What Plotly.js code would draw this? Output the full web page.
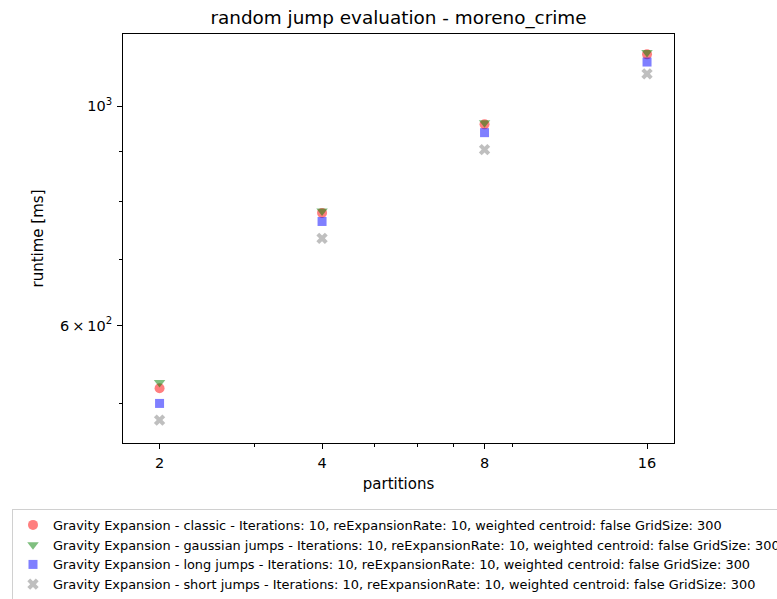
<!DOCTYPE html>
<html>
<head>
<meta charset="utf-8">
<script src="https://cdn.plot.ly/plotly-3.0.1.min.js"></script>
<style>html,body{margin:0;padding:0;background:#fff;overflow:hidden;}#chart{width:777px;height:599px;}</style>
</head>
<body>
<div id="chart"></div>
<script>
const partitions = [2, 4, 8, 16];
const classic = [518.5, 779.8, 958.4, 1128];
const gaussianJumps = [525.4, 783.1, 962.1, 1133];
const longJumps = [500.4, 764.4, 940.0, 1108];
const shortJumps = [481.4, 734.9, 903.6, 1078];

const seriesNames = [
  "Gravity Expansion - classic - Iterations: 10, reExpansionRate: 10, weighted centroid: false GridSize: 300",
  "Gravity Expansion - gaussian jumps - Iterations: 10, reExpansionRate: 10, weighted centroid: false GridSize: 300",
  "Gravity Expansion - long jumps - Iterations: 10, reExpansionRate: 10, weighted centroid: false GridSize: 300",
  "Gravity Expansion - short jumps - Iterations: 10, reExpansionRate: 10, weighted centroid: false GridSize: 300"
];
const xTickVals = [2, 4, 8, 16];
const xTickText = ["2", "4", "8", "16"];
const xMinorVals = [3, 5, 6, 7, 9];
const yTickVals = [600, 1000];
const yTickText = ["6\u2009×\u200910<sup>2</sup>", "10<sup>3</sup>"];
const yMinorVals = [500, 700, 800, 900];

const font = "DejaVu Sans, sans-serif";

function trace(name, y, symbol, color, size) {
  return {
    type: "scatter", mode: "markers", name: name, x: partitions, y: y,
    marker: {symbol: symbol, color: color, size: size, line: {width: 0}}
  };
}

const data = [
  trace(seriesNames[0], classic, "circle", "rgba(255,0,0,0.5)", 10),
  trace(seriesNames[1], gaussianJumps, "triangle-down", "rgba(0,128,0,0.5)", 10),
  trace(seriesNames[2], longJumps, "square", "rgba(0,0,255,0.5)", 9),
  trace(seriesNames[3], shortJumps, "x", "rgba(128,128,128,0.5)", 10)
];

const layout = {
  width: 777, height: 599,
  margin: {l: 123, r: 103, t: 34, b: 156, autoexpand: false},
  paper_bgcolor: "#fff", plot_bgcolor: "#fff",
  font: {family: font, color: "#000", size: 14.5},
  title: {text: "random jump evaluation - moreno_crime", font: {family: font, size: 18.4, color: "#000"},
          x: 0.5, xref: "paper", y: 1 - 18/599, yref: "container", yanchor: "middle"},
  xaxis: {
    type: "log", range: [Math.log10(2) - 0.225*Math.log10(2), Math.log10(16) + 0.166*Math.log10(2)],
    tickmode: "array", tickvals: xTickVals, ticktext: xTickText,
    ticks: "outside", ticklen: 5, tickwidth: 1, tickcolor: "#000", ticklabelstandoff: 2,
    showgrid: false, zeroline: false, showline: true, linecolor: "#000", linewidth: 1, mirror: true,
    tickfont: {family: font, size: 14.5, color: "#000"},
    minor: {tickmode: "array", tickvals: xMinorVals, ticks: "outside", ticklen: 3, tickwidth: 1, tickcolor: "#000", showgrid: false},
    title: {text: "partitions", font: {family: font, size: 15, color: "#000"}, standoff: 8},
    automargin: false
  },
  yaxis: {
    type: "log", range: [2.6593, 3.0729],
    tickmode: "array", tickvals: yTickVals, ticktext: yTickText,
    ticks: "outside", ticklen: 5, tickwidth: 1, tickcolor: "#000", ticklabelstandoff: 2,
    showgrid: false, zeroline: false, showline: true, linecolor: "#000", linewidth: 1, mirror: true,
    tickfont: {family: font, size: 14.5, color: "#000"},
    minor: {tickmode: "array", tickvals: yMinorVals, ticks: "outside", ticklen: 3, tickwidth: 1, tickcolor: "#000", showgrid: false},
    title: {text: "runtime [ms]", font: {family: font, size: 15, color: "#000"}, standoff: 12},
    automargin: false
  },
  showlegend: true,
  legend: {
    x: (12 - 123) / 551, xanchor: "left",
    y: -(509 - 443) / 409, yanchor: "top",
    bgcolor: "#fff", bordercolor: "#d0d0d0", borderwidth: 1,
    font: {family: font, size: 12.9, color: "#000"},
    orientation: "v", tracegroupgap: 0
  }
};

Plotly.newPlot("chart", data, layout, {displayModeBar: false, staticPlot: true});
</script>
</body>
</html>
